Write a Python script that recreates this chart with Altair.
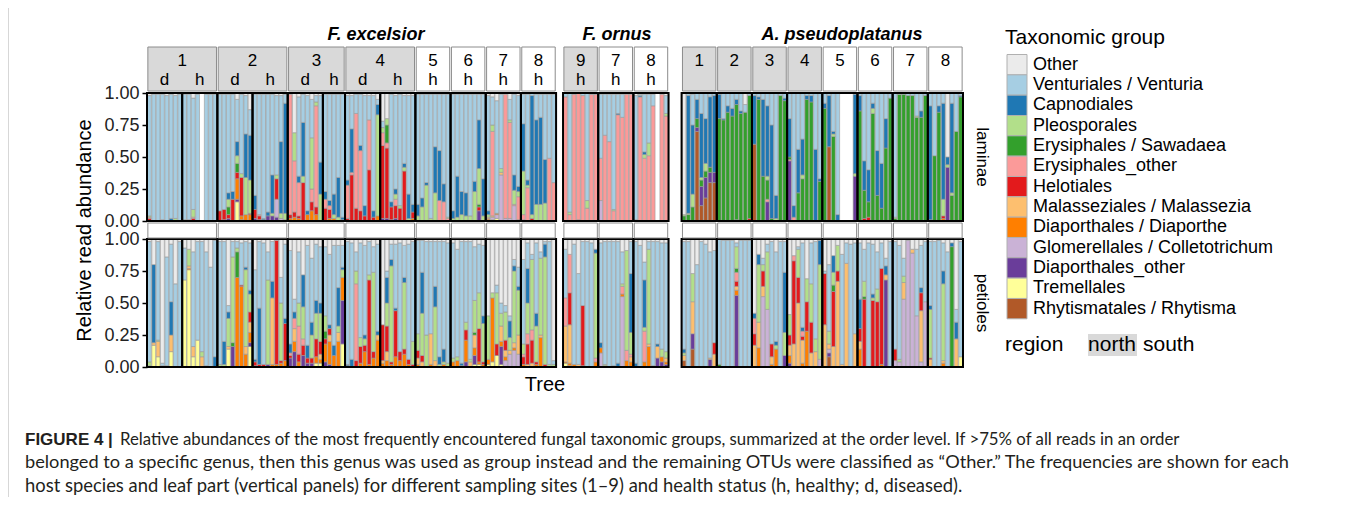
import altair as alt
import pandas as pd

# ---------------- legend / colours ----------------
GROUPS = ["Other", "Venturiales / Venturia", "Capnodiales", "Pleosporales",
          "Erysiphales / Sawadaea", "Erysiphales_other", "Helotiales",
          "Malasseziales / Malassezia", "Diaporthales / Diaporthe",
          "Glomerellales / Colletotrichum", "Diaporthales_other", "Tremellales",
          "Rhytismatales / Rhytisma"]
CODES = ["O", "V", "C", "P", "S", "E", "H", "M", "D", "G", "X", "T", "R"]
COLORS = ["#ebebeb", "#a6cee3", "#1f78b4", "#b2df8a", "#33a02c", "#fb9a99", "#e31a1c",
          "#fdbf6f", "#ff7f00", "#cab2d6", "#6a3d9a", "#ffff99", "#b15928"]

# ---------------- panels ----------------
FEX_TREE = ["1", "1", "2", "2", "3", "3", "4", "4", "5", "6", "7", "8"]
FEX_STATUS = ["d", "h", "d", "h", "d", "h", "d", "h", "h", "h", "h", "h"]
FEX_REGION = ["north"] * 8 + ["south"] * 4
FORN_TREE = ["9", "7", "8"]
FORN_STATUS = ["h", "h", "h"]
FORN_REGION = ["north", "south", "south"]
APS_TREE = ["1", "2", "3", "4", "5", "6", "7", "8"]
APS_STATUS = [""] * 8
APS_REGION = ["north"] * 4 + ["south"] * 4

# relative abundances per sample (code + fraction), one list per panel
FEX_LAM = [
    ["O.02 V.94 P.01 E.01 H.02", "O.01 V.99", "O.01 V.99", "O.01 V.98 H.01", "O.02 V.98", "O.01 V.97 C.02", "O.02 V.96 P.02", "O.01 V.99"],
    ["O.01 V.98 P.01", "O.01 V.98 E.01", "O.04 V.87 P.06 H.02 E.01", "O.01 V.99", "", "O.01 V.99", "O.01 V.99", "O.01 V.99"],
    ["O.01 V.91 H.08", "O.01 V.90 H.08 X.01", "O.01 V.77 C.05 P.06 S.06 H.03 X.02", "O.01 V.76 C.06 H.17", "O.05 V.33 C.11 P.06 S.07 H.05 D.16 T.15 X.02", "O.01 V.62 P.03 H.30 D.03 X.01", "O.02 V.30 C.34 P.29 D.05", "O.13 V.20 C.35 P.26 D.05 H.01"],
    ["O.01 V.79 C.11 H.07 X.02", "O.01 V.94 H.03 E.01 X.01", "O.01 V.97 C.01 X.01", "O.01 V.92 C.03 X.04", "O.01 V.63 C.30 P.02 X.04", "O.02 V.62 H.16 P.03 G.14 X.03", "O.02 V.36 C.56 P.04 G.02", "O.01 V.07 C.86 P.05 D.01"],
    ["O.01 E.94 H.03 D.02", "O.31 P.22 E.40 H.04 D.03", "O.03 V.62 C.05 E.26 H.02 D.02", "O.01 V.22 C.42 P.05 H.30", "O.02 V.90 C.03 D.05", "O.05 V.30 P.40 E.10 H.07 D.08", "O.02 V.05 P.03 E.79 H.06 D.05", "O.02 V.52 C.25 P.21"],
    ["O.01 V.76 C.06 E.07 H.10", "O.01 V.83 C.04 E.03 H.07 D.02", "O.01 V.78 C.16 P.03 D.02", "O.01 V.65 C.31 P.03", "O.01 V.96 C.02 P.01"],
    ["O.02 V.66 C.04 E.26 H.02", "O.02 V.26 C.34 E.02 H.36", "O.01 V.15 E.74 H.10", "O.01 V.40 C.04 E.47 H.08", "O.02 V.86 C.08 H.04", "O.02 V.19 E.39 H.40", "O.02 V.90 C.05 H.03", "O.05 V.04 C.08 P.79 D.04"],
    ["O.22 V.05 P.04 E.10 H.57 X.02", "O.20 P.05 S.14 E.04 H.55 X.02", "O.01 V.84 C.04 H.10 X.01", "O.02 V.73 C.04 P.04 E.05 H.10 X.02", "O.01 V.87 P.02 H.10", "O.02 V.53 C.03 P.03 H.39", "O.02 V.77 C.19 P.02", "O.02 V.85 C.06 H.05 D.02"],
    ["O.01 V.86 C.09 P.04", "O.01 V.81 C.07 P.11", "O.01 V.69 C.02 P.28", "O.01 V.97 P.02", "O.01 V.41 C.36 P.22", "O.01 V.44 C.39 E.16", "O.01 V.70 C.14 E.15", "O.01 V.96 P.01 E.02"],
    ["O.01 V.91 C.06 P.02", "O.01 V.64 C.32 P.03", "O.01 V.76 C.18 P.05", "O.01 V.77 C.18 P.04", "O.01 V.95 P.04", "O.01 V.68 C.08 P.23", "O.01 V.20 C.38 P.28 S.02 H.03 X.08", "O.01 V.66 C.29 P.04"],
    ["O.02 V.90 C.03 P.02 M.01 D.01 T.01", "O.03 V.22 P.05 E.66 M.01 G.02 T.01", "O.06 V.88 D.01 G.03 T.02", "O.01 V.58 P.03 M.02 G.36", "O.01 E.97 G.02", "O.05 V.16 P.02 E.75 G.02", "O.01 V.63 C.12 P.11 E.01 G.12", "O.02 V.71 C.04 P.04 E.18 H.01"],
    ["O.01 V.23 C.37 P.34 E.04 H.01", "O.01 V.67 C.04 P.02 E.26", "V.02 C.93 P.03 H.02", "O.01 V.20 C.66 P.13", "O.01 V.18 C.68 P.13", "O.01 V.51 C.34 P.14", "O.01 V.50 E.49", "O.01 V.69 E.30"],
]
FEX_PET = [
    ["O.02 V.94 P.03 T.01", "O.20 C.61 M.02 T.17", "O.02 V.77 P.01 M.12 T.08", "O.97 V.02 P.01", "O.14 V.85 P.01", "O.04 V.45 C.26 M.13 T.12", "O.35 V.65", "O.02 V.98"],
    ["O.07 V.25 T.68", "O.08 P.13 M.02 D.01 T.76", "O.10 V.74 M.08 T.08", "O.02 V.77 T.21", "O.02 V.86 P.04 M.08", "O.10 V.89 M.01", "O.22 V.78", "O.01 V.91 C.08"],
    ["O.02 V.96 P.02", "O.02 V.78 C.18 P.02", "O.52 V.05 C.05 P.22 M.02 T.14", "O.02 V.12 P.67 S.03 X.16", "O.02 V.05 P.03 S.20 D.70", "O.03 V.33 H.01 D.63", "O.02 V.20 C.02 P.60 M.06 D.10", "O.03 V.37 C.03 P.14 H.08 M.08 D.08 X.03 T.16"],
    ["O.24 V.70 C.02 H.03 X.01", "O.02 V.52 C.44 H.02", "O.03 V.95 H.02", "O.10 V.22 P.66 X.02", "O.02 V.31 C.13 M.52 D.02", "O.01 H.97 D.02", "O.30 V.20 P.45 H.02 D.03", "O.04 V.58 C.04 H.29 D.05"],
    ["O.09 V.73 C.07 E.02 H.02 X.07", "O.47 V.10 C.05 E.08 M.10 D.08 X.12", "O.10 V.40 P.18 E.22 H.06 D.04", "O.28 C.25 P.25 E.05 H.08 X.09", "O.05 V.78 C.10 H.04 X.03", "O.15 V.50 C.10 P.18 H.04 X.03", "O.04 V.44 C.10 P.20 H.14 D.05 T.03", "O.06 V.44 C.08 P.22 H.10 M.04 D.03 T.03"],
    ["O.06 V.54 P.12 S.06 H.04 D.14 X.04", "O.12 V.55 C.03 H.05 M.05 D.18 X.02", "O.05 V.78 C.08 D.09", "O.05 V.33 C.30 P.05 M.07 D.20", "O.05 V.17 C.02 P.06 D.18 X.34 T.18"],
    ["O.02 V.96 C.01 H.01", "O.03 V.91 C.06", "O.10 V.15 P.10 E.60 H.05", "O.03 V.74 P.07 H.13 D.03", "O.05 V.70 C.03 P.05 H.05 D.12", "O.02 V.26 P.04 H.66 D.02", "O.06 V.20 P.62 H.05 D.07", "O.04 V.68 C.03 M.04 D.21"],
    ["O.67 H.28 M.02 D.03", "O.25 V.05 C.20 P.18 H.20 M.07 D.05", "O.04 V.12 C.05 P.75 H.02 D.02", "O.04 V.50 C.02 H.36 D.08", "O.03 V.85 H.07 D.05", "O.05 V.25 C.04 P.52 H.04 D.10", "O.04 V.90 H.04 D.02", "O.02 V.78 P.18 H.02"],
    ["O.01 V.73 P.13 H.06 M.05 D.02", "O.01 V.25 C.32 P.33 H.05 M.04", "O.02 V.73 P.25", "O.02 V.72 M.24 D.02", "O.02 V.35 C.16 P.42 M.05", "O.02 V.90 C.06 P.02", "O.02 V.84 C.10 P.02 D.02", "O.03 V.94 P.03"],
    ["O.03 V.90 P.03 D.04", "O.08 V.84 P.03 D.05", "O.02 V.95 C.02 D.01", "O.02 V.63 P.06 H.08 D.17 X.04", "O.02 V.92 P.02 M.04", "O.06 V.42 P.25 S.02 M.10 D.06 X.07 T.02", "O.04 V.38 P.28 H.26 D.02 T.02", "O.05 V.55 C.06 P.30 H.02 D.02"],
    ["O.60 P.34 D.04 T.02", "O.42 P.04 D.50 T.04", "O.36 V.06 P.40 H.09 T.09", "O.50 V.08 P.10 M.12 D.04 X.14 T.02", "O.52 V.05 P.22 H.08 M.05 D.03 G.05", "O.60 V.04 C.13 P.10 M.03 G.10", "O.16 V.05 C.04 P.56 M.04 D.02 G.13", "O.22 V.15 C.03 P.35 M.15 G.10"],
    ["O.16 V.66 P.08 E.02 H.06 D.02", "O.03 V.20 C.27 P.24 E.08 H.16 M.02", "O.12 V.04 P.55 E.08 H.18 M.03", "O.03 V.55 C.10 P.28 H.02 D.02", "O.10 V.05 P.60 M.02 D.23", "O.02 V.02 C.10 P.84 H.02", "O.02 V.96 P.02", "O.95 V.03 P.02"],
]
FORN_LAM = [
    ["V.03 E.97", "V.93 P.02 E.05", "V.01 E.99", "E.99 H.01", "V.02 E.98", "V.84 P.06 E.10", "V.01 E.99", "V.01 E.99"],
    ["O.01 V.50 E.33 G.16", "O.01 V.32 E.67", "O.01 V.37 E.62", "O.01 V.90 P.01 E.08", "O.01 V.15 C.01 E.83", "O.01 V.18 E.81", "O.01 E.99", "O.01 E.99"],
    ["O.02 V.97 E.01", "O.01 V.01 C.01 E.97", "O.01 V.45 C.02 P.03 E.49", "O.01 V.38 P.10 E.51", "O.01 V.09 E.90", "", "O.01 E.99", "O.02 V.14 P.02 E.82"],
]
FORN_PET = [
    ["O.08 V.38 E.22 M.28 D.01 T.03", "O.12 E.30 H.25 M.30 D.02 T.01", "O.04 V.94 D.02", "O.27 V.71 M.02", "O.02 V.50 H.47 T.01", "O.02 V.98", "O.03 V.97", "O.08 C.03 P.82 E.03 D.04"],
    ["O.03 V.78 C.04 D.04 G.11", "O.02 V.96 P.01 H.01", "O.02 V.98", "O.02 V.97 C.01", "O.02 V.95 C.03", "O.10 V.25 P.02 E.06 D.02 G.55", "O.09 P.78 E.08 D.05", "O.02 V.25 C.46 P.17 E.02 M.04 D.04"],
    ["O.02 V.95 C.03", "O.05 V.95", "O.18 V.14 C.37 P.03 E.24 D.04", "O.02 V.06 P.74 M.02 D.16", "O.02 V.97 D.01", "O.02 V.80 C.02 M.09 X.07", "O.03 V.83 P.06 D.04 X.04", "O.03 V.85 P.05 M.03 D.02 X.02"],
]
APS_LAM = [
    ["O.95 P.01 S.04", "V.02 C.92 P.01 S.05", "O.01 V.24 C.54 P.10 S.11", "V.05 C.15 S.07 X.03 R.70", "V.16 C.50 P.02 S.05 X.15 R.12", "V.20 C.35 P.06 S.05 X.16 R.18", "V.03 C.55 S.04 X.08 R.30", "V.02 C.60 X.08 R.30"],
    ["V.01 C.19 S.80", "V.20 C.01 S.79", "V.10 C.05 S.85", "V.12 C.06 S.82", "V.05 C.04 S.90 X.01", "V.14 C.02 S.84", "O.09 V.06 S.85", "V.02 S.96 H.02"],
    ["V.02 C.38 R.60", "V.03 C.02 S.95", "V.05 C.60 S.35", "V.10 C.55 P.03 S.15 E.02 X.15", "V.25 C.73 S.02", "V.80 C.18 P.02", "V.02 S.98", "V.04 C.02 S.94"],
    ["V.20 C.30 S.02 E.01 X.47", "V.88 C.09 E.03", "V.44 C.34 S.22", "V.36 C.28 P.03 S.33", "V.02 C.03 S.95", "V.02 C.05 S.93", "V.44 C.56", "V.67 C.02 S.31"],
    ["V.08 C.04 S.88", "V.02 C.40 R.58", "V.30 C.02 P.02 S.66", "V.95 C.05", "", "", "", "V.01 C.62 P.02 X.35"],
    ["V.02 C.12 S.86", "V.53 C.23 S.22 H.02", "V.60 C.25 S.12 H.03", "V.08 C.04 P.04 S.84", "V.45 C.35 S.20", "V.55 C.35 S.10", "V.20 C.23 S.57", "V.04 S.96"],
    ["V.97 P.01 S.02", "V.01 S.99", "V.01 S.99", "V.02 S.98", "V.02 S.98", "V.18 P.01 S.81", "V.14 C.05 S.81", "V.02 S.98"],
    ["V.10 C.89 X.01", "V.49 S.51", "V.10 C.05 S.85", "V.08 C.75 P.13 H.02 D.02", "O.50 C.06 P.02 X.42", "V.08 C.70 P.02 S.20", "V.30 S.70", "V.02 C.01 S.97"],
]
APS_PET = [
    ["O.02 V.84 C.03 P.02 M.04 R.05", "O.02 V.98", "O.27 P.22 M.25 X.12 R.14", "O.20 V.80", "O.02 V.98", "O.04 V.96", "O.10 V.83 M.01 X.06", "O.09 V.72 H.09 M.10"],
    ["V.98 S.02", "O.01 V.99", "O.01 V.99", "O.01 V.99", "O.03 V.03 P.17 S.03 E.07 H.04 M.03 D.04 X.56", "O.01 V.99", "O.01 V.99", "O.01 V.99"],
    ["O.58 C.04 E.12 H.09 M.17", "O.12 C.08 P.45 M.20 D.15", "O.15 V.05 P.05 H.12 M.08 G.55", "O.04 V.06 P.45 G.45", "O.02 V.80 H.10 M.06 D.02", "O.10 V.70 C.03 P.03 D.14", "O.02 V.98", "O.02 V.24 C.47 P.18 X.09"],
    ["O.59 P.16 H.08 M.08 D.06 X.03", "O.13 E.04 H.65 M.18", "O.06 V.02 P.22 H.20 M.50", "O.03 V.66 C.03 E.04 H.03 M.18 D.03", "O.31 P.18 H.23 D.28", "O.03 V.32 P.30 H.24 M.11", "O.02 V.76 P.10 M.12", "O.01 C.19 P.74 G.06"],
    ["O.25 V.02 H.40 M.33", "O.20 V.52 P.10 M.04 G.03 X.03 R.08", "O.13 C.13 P.10 S.05 H.43 M.16", "O.05 P.20 H.08 M.67", "O.12 V.86 M.02", "O.03 V.16 M.81", "O.04 V.96", "O.03 V.71 M.26"],
    ["O.03 V.44 C.23 H.10 M.06 D.14", "O.08 V.25 P.12 S.02 H.53", "O.03 V.97", "O.04 V.39 C.03 P.02 H.52", "O.10 V.29 P.10 H.51", "O.03 V.20 H.75 D.02", "O.15 V.06 C.07 M.04 X.68", "O.02 V.98"],
    ["O.02 V.84 H.09 G.05", "O.05 V.89 P.02 G.04", "O.15 V.14 P.05 M.13 G.53", "O.01 G.99", "O.08 M.03 G.89", "O.08 V.52 G.40", "O.05 V.33 C.04 H.14 M.40 G.04", "O.02 V.47 G.51"],
    ["O.02 V.50 C.03 P.38 H.01 M.06", "O.02 V.98", "O.01 V.99", "O.03 V.22 C.10 P.60 M.02 D.03", "O.10 V.90", "O.03 C.03 S.94", "O.55 V.10 C.13 M.22", "O.02 V.90 T.08"],
]

CAPTION_BOLD = "FIGURE 4 |"
CAPTION_LINES = [
    "Relative abundances of the most frequently encountered fungal taxonomic groups, summarized at the order level. If >75% of all reads in an order",
    "belonged to a specific genus, then this genus was used as group instead and the remaining OTUs were classified as \u201cOther.\u201d The frequencies are shown for each",
    "host species and leaf part (vertical panels) for different sampling sites (1\u20139) and health status (h, healthy; d, diseased).",
]

# ---------------- layout (slot units) ----------------
BLOCKS = [
    ("F. excelsior", FEX_TREE, FEX_STATUS, FEX_REGION, FEX_LAM, FEX_PET),
    ("F. ornus", FORN_TREE, FORN_STATUS, FORN_REGION, FORN_LAM, FORN_PET),
    ("A. pseudoplatanus", APS_TREE, APS_STATUS, APS_REGION, APS_LAM, APS_PET),
]
GAPS = [0.0, 1.6, 3.0]
PAD = 0.05
LAM_OFF = 1.140625


def parse(s):
    out = {}
    for tok in s.split():
        out[tok[0]] = float(tok[1:])
    return out


segs, frames, panels = [], [], []
cursor = 0.0
for k, (sp, trees, stats, regions, lam, pet) in enumerate(BLOCKS):
    cursor += GAPS[k]
    for p in range(len(trees)):
        n = len(lam[p])
        x0 = cursor
        x1 = cursor + n + 2 * PAD
        for rows, off in ((lam, LAM_OFF), (pet, 0.0)):
            frames.append(dict(x0=x0, x1=x1, y0=off, y1=off + 1))
            for i, s in enumerate(rows[p]):
                vals = parse(s)
                if not vals:
                    continue
                tot = sum(vals.values())
                base = off
                for code in reversed(CODES):
                    if code in vals:
                        h = vals[code] / tot
                        segs.append(dict(x0=x0 + PAD + i + 0.06, x1=x0 + PAD + i + 0.94,
                                         y0=base, y1=base + h,
                                         group=GROUPS[CODES.index(code)]))
                        base += h
        panels.append(dict(species=sp, tree=trees[p], status=stats[p], region=regions[p],
                           x0=x0, x1=x1, xc=(x0 + x1) / 2))
        cursor = x1
TOTAL = cursor

seg_df = pd.DataFrame(segs)
frame_df = pd.DataFrame(frames)
panel_df = pd.DataFrame(panels)
tree_df = (panel_df.groupby(["species", "tree"], sort=False)
           .agg(x0=("x0", "min"), x1=("x1", "max"), region=("region", "first"))
           .reset_index())
tree_df["sx0"] = tree_df["x0"] + 0.2
tree_df["sx1"] = tree_df["x1"] - 0.2
tree_df["xc"] = (tree_df["x0"] + tree_df["x1"]) / 2
status_df = panel_df[panel_df["status"] != ""]
legend_df = pd.DataFrame({"group": GROUPS,
                          "r0": list(range(len(GROUPS))),
                          "r1": [i + 1 for i in range(len(GROUPS))],
                          "rc": [i + 0.5 for i in range(len(GROUPS))]})

W, H = 816, 274
xs = alt.Scale(domain=[0, TOTAL], nice=False, zero=False)
ys = alt.Scale(domain=[0, LAM_OFF + 1], nice=False, zero=False)
color_scale = alt.Scale(domain=GROUPS, range=COLORS)
tick_vals = [0, 0.25, 0.5, 0.75, 1.0] + [LAM_OFF + v for v in (0, 0.25, 0.5, 0.75, 1.0)]
yaxis = alt.Axis(values=tick_vals,
                 labelExpr="datum.value > 1.05 ? format(datum.value - 1.140625, '.2f') : format(datum.value, '.2f')",
                 title="Relative read abundance", titleFontSize=20, titleFontWeight="normal",
                 titleColor="black", titlePadding=9, labelFontSize=18, labelColor="#222222",
                 labelPadding=3, tickColor="black", tickWidth=1.5, tickSize=5,
                 domain=False, grid=False)
X = alt.X("x0:Q", scale=xs, axis=None)
Y = alt.Y("y0:Q", scale=ys, axis=yaxis)

bars = alt.Chart(seg_df).mark_rect(stroke="#999999", strokeWidth=0.6).encode(
    x=X, x2="x1:Q", y=Y, y2="y1:Q",
    color=alt.Color("group:N", scale=color_scale, legend=None))

frame_layer = alt.Chart(frame_df).mark_rect(filled=False, stroke="black", strokeWidth=2).encode(
    x=X, x2="x1:Q", y=Y, y2="y1:Q")

main = alt.layer(bars, frame_layer)

# legend rows, positioned by a dedicated row scale
LEG_SCALE = alt.Scale(domain=[0, len(GROUPS)], range=[-38.5, -38.5 + 20.33 * len(GROUPS)])
legend_boxes = alt.Chart(legend_df).mark_rect(stroke="#b0b0b0", strokeWidth=1).encode(
    x=alt.value(860), x2=alt.value(880),
    y=alt.Y("r0:Q", scale=LEG_SCALE, axis=None), y2="r1:Q",
    color=alt.Color("group:N", scale=color_scale, legend=None))
legend_labels = alt.Chart(legend_df).mark_text(align="left", baseline="middle", fontSize=18,
                                               color="black").encode(
    x=alt.value(886), y=alt.Y("rc:Q", scale=LEG_SCALE, axis=None), text="group:N")
legend_layer = alt.layer(legend_boxes, legend_labels)

strip_fill = alt.condition("datum.region == 'north'", alt.value("#d9d9d9"), alt.value("white"))
strips = alt.Chart(tree_df).mark_rect(stroke="#8c8c8c", strokeWidth=1).encode(
    x=alt.X("sx0:Q", scale=xs, axis=None), x2="sx1:Q",
    y=alt.value(-46), y2=alt.value(-2), fill=strip_fill)
mid_strips = alt.Chart(tree_df).mark_rect(stroke="#8c8c8c", strokeWidth=1, fill="white").encode(
    x=alt.X("sx0:Q", scale=xs, axis=None), x2="sx1:Q",
    y=alt.value(130), y2=alt.value(145))
tree_text = alt.Chart(tree_df).mark_text(fontSize=17, color="black").encode(
    x=alt.X("xc:Q", scale=xs, axis=None), y=alt.value(-32), text="tree:N")
status_text = alt.Chart(status_df).mark_text(fontSize=17, color="black").encode(
    x=alt.X("xc:Q", scale=xs, axis=None), y=alt.value(-13), text="status:N")


def label(txt, x, y, **kw):
    return alt.Chart(pd.DataFrame({"t": [txt]})).mark_text(**kw).encode(
        x=alt.value(x), y=alt.value(y), text="t:N")


CAP = dict(align="left", color="#231f20", font="Lato")
annotations = [
    label("F. excelsior", 229, -58.5, fontSize=18, fontWeight="bold", fontStyle="italic", color="black"),
    label("F. ornus", 470, -58.5, fontSize=18, fontWeight="bold", fontStyle="italic", color="black"),
    label("A. pseudoplatanus", 695, -58.5, fontSize=18, fontWeight="bold", fontStyle="italic", color="black"),
    label("laminae", 835, 64, fontSize=17, angle=90, color="black"),
    label("petioles", 835, 210, fontSize=17, angle=90, color="black"),
    label("Tree", 398, 292, fontSize=20, color="black"),
    label("Taxonomic group", 858, -55, fontSize=21, align="left", color="black"),
    label("region", 858, 252, fontSize=21, align="left", color="black"),
    label("north", 965, 252, fontSize=21, color="black"),
    label("south", 996, 252, fontSize=21, align="left", color="black"),
    label(CAPTION_BOLD, -122, 347, fontWeight="bold", fontSize=17, align="left", color="#231f20"),
    label(CAPTION_LINES[0], -27, 347, fontSize=16.8, **CAP),
    label(CAPTION_LINES[1], -122, 370, fontSize=18.2, **CAP),
    label(CAPTION_LINES[2], -122, 393, fontSize=18.4, **CAP),
]
north_box = alt.Chart(pd.DataFrame({"t": ["north"]})).mark_rect(fill="#d9d9d9").encode(
    x=alt.value(941), x2=alt.value(990), y=alt.value(241), y2=alt.value(263))
border = alt.Chart(pd.DataFrame({"t": [0]})).mark_rule(color="#b0b0b0", strokeWidth=1).encode(
    x=alt.value(-139), y=alt.value(-93), y2=alt.value(404))

chart = alt.layer(main, legend_layer, strips, mid_strips, tree_text, status_text,
                  north_box, border, *annotations).resolve_scale(y="independent").properties(
    width=W, height=H,
    autosize=alt.AutoSizeParams(type="none"),
    padding={"left": 139, "top": 85, "right": 380, "bottom": 130},
).configure(font="Liberation Sans").configure_view(strokeWidth=0)

chart.save("out.html", embed_options={"renderer": "svg", "actions": False})
